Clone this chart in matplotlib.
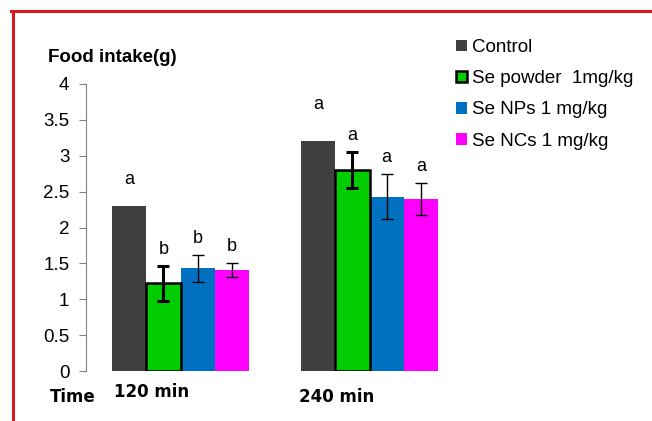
import matplotlib
matplotlib.use('Agg')
import matplotlib.pyplot as plt
from matplotlib.lines import Line2D
import numpy as np

plt.rcParams['font.family'] = ['Liberation Sans', 'DejaVu Sans']

times = ['120 min', '240 min']
groups = ['Control', 'Se powder  1mg/kg', 'Se NPs 1 mg/kg', 'Se NCs 1 mg/kg']
control = [2.30, 3.21]
se_powder = [1.22, 2.80]
se_nps = [1.43, 2.43]
se_ncs = [1.41, 2.40]
err_powder = [0.24, 0.25]
err_nps = [0.185, 0.31]
err_ncs = [0.095, 0.22]
letters = [['a', 'b', 'b', 'b'], ['a', 'a', 'a', 'a']]

values = [control, se_powder, se_nps, se_ncs]
errors = [None, err_powder, err_nps, err_ncs]
colors = ['#404040', '#00cc00', '#0070c0', '#ff00ff']

fig = plt.figure(figsize=(6.52, 4.21), dpi=100)
ax = fig.add_axes([86/652, 50/421, 378/652, 287/421])

w = 1/5.5
ind = np.arange(len(times))
bars = []
for i, (vals, errs, c) in enumerate(zip(values, errors, colors)):
    x = ind + (i - 1.5) * w
    if i == 1:
        b = ax.bar(x, vals, w, color=c, edgecolor='black', linewidth=1.8, label=groups[i], zorder=3)
    else:
        b = ax.bar(x, vals, w, color=c, linewidth=0, label=groups[i], zorder=2)
    bars.append(b)
    if errs is not None:
        lw = 2.2 if i == 1 else 1.0
        ax.errorbar(x, vals, yerr=errs, fmt='none', ecolor='black', elinewidth=lw,
                    capsize=4, capthick=lw, zorder=4)
    for j in range(len(times)):
        top = vals[j] + (errs[j] if errs is not None else 0)
        if i == 0:
            off = 13 if j == 0 else 20
        else:
            off = 6
        ax.annotate(letters[j][i], (x[j], top), xytext=(0, off), textcoords='offset points',
                    ha='center', va='bottom', fontsize=13)

ax.set_xlim(-0.5, 1.5)
ax.set_ylim(0, 4)
ax.set_yticks(np.arange(0, 4.01, 0.5))
ax.set_yticklabels(['0', '0.5', '1', '1.5', '2', '2.5', '3', '3.5', '4'])
ax.set_xticks([])
for s in ['top', 'right', 'bottom']:
    ax.spines[s].set_visible(False)
ax.spines['left'].set_color('#808080')
ax.tick_params(axis='y', colors='#808080', labelcolor='black', labelsize=13.5, length=5, pad=7)

fig.text(48/652, 1 - 58/421, 'Food intake(g)', fontsize=13.5, fontweight='bold', va='center', ha='left')
fig.text(50/652, 1 - 397/421, 'Time', fontsize=12, fontweight='bold', va='center', ha='left', family='DejaVu Sans')
fig.text(152/652, 1 - 392/421, '120 min', fontsize=12, fontweight='bold', va='center', ha='center', family='DejaVu Sans')
fig.text(337/652, 1 - 397/421, '240 min', fontsize=12, fontweight='bold', va='center', ha='center', family='DejaVu Sans')

leg = fig.legend(handles=bars, labels=groups, loc='upper left', bbox_to_anchor=(447/652, 1 - 30/421),
                 frameon=False, fontsize=13.5, handlelength=0.55, handleheight=0.55,
                 handletextpad=0.3, labelspacing=0.75, borderpad=0)

# red frame
fig.add_artist(Line2D([11/652, 1], [1 - 11/421, 1 - 11/421], color='#d7191f', linewidth=2.2))
fig.add_artist(Line2D([12.5/652, 12.5/652], [0, 1 - 11/421], color='#d7191f', linewidth=2.2))

fig.savefig('out.png', dpi=100)
